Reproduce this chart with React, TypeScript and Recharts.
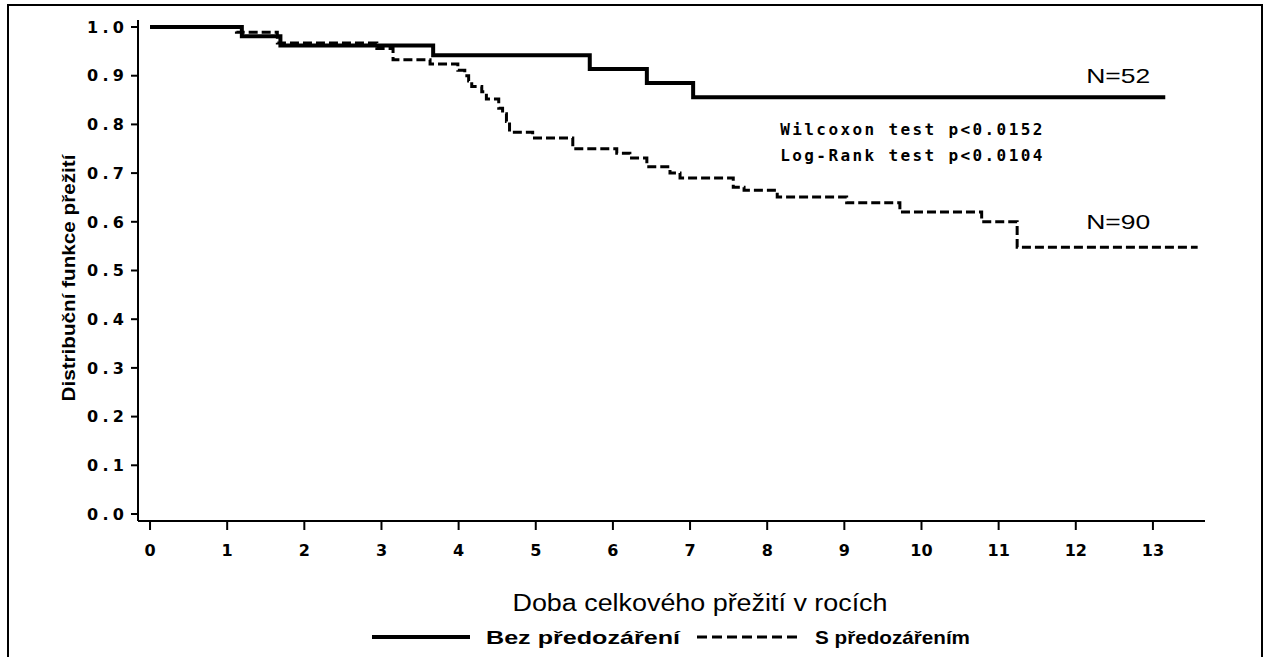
import React from 'react';
import { LineChart, Line, XAxis, YAxis, ReferenceDot, Legend } from 'recharts';

// ---- data ----
const xTicks = [0, 1, 2, 3, 4, 5, 6, 7, 8, 9, 10, 11, 12, 13];
const yTicks = [0, 0.1, 0.2, 0.3, 0.4, 0.5, 0.6, 0.7, 0.8, 0.9, 1.0];

const seriesNames = ['Bez předozáření', 'S předozářením'];

// Bez předozáření (N=52)
const solidTimes = [0, 1.19, 1.69, 3.67, 5.7, 6.44, 7.04, 13.16];
const solidSurvival = [1.0, 0.981, 0.962, 0.942, 0.914, 0.885, 0.856, 0.856];

// S předozářením (N=90)
const dashedTimes = [
  0, 1.12, 1.65, 2.94, 3.15, 3.63, 3.99, 4.08, 4.13, 4.17, 4.3, 4.36, 4.52, 4.57, 4.62, 4.66,
  4.96, 5.48, 6.05, 6.22, 6.44, 6.74, 6.87, 7.56, 7.7, 8.13, 9.03, 9.72, 10.78, 11.24, 13.58,
];
const dashedSurvival = [
  1.0, 0.989, 0.967, 0.956, 0.933, 0.924, 0.911, 0.9, 0.889, 0.878, 0.867, 0.852, 0.833, 0.822, 0.806, 0.784,
  0.772, 0.75, 0.741, 0.731, 0.713, 0.7, 0.69, 0.671, 0.665, 0.651, 0.639, 0.62, 0.6, 0.548, 0.548,
];

const annotationTexts = ['N=52', 'N=90', 'Wilcoxon test p<0.0152', 'Log-Rank test p<0.0104'];
const annotationX = [12.55, 12.55, 8.17, 8.17];
const annotationY = [0.901, 0.6, 0.789, 0.737];

const solidData = solidTimes.map((t, i) => ({ t, s: solidSurvival[i] }));
const dashedData = dashedTimes.map((t, i) => ({ t, s: dashedSurvival[i] }));

const NARROW = '"Liberation Sans Narrow", "Arial Narrow", "Liberation Sans", Arial, sans-serif';
const MONO = '"DejaVu Sans Mono", "Liberation Mono", monospace';

const XTick = (props: any) => {
  const { x, y, payload } = props;
  return (
    <text x={x} y={y + 26} textAnchor="middle" fontFamily='"DejaVu Sans", sans-serif' fontWeight="bold" fontSize={16} fill="#000">
      {payload.value}
    </text>
  );
};

const YTick = (props: any) => {
  const { x, y, payload } = props;
  return (
    <text x={x} y={y} dy="0.36em" textAnchor="end" fontFamily='"DejaVu Sans", sans-serif' fontWeight="bold" fontSize={16} fill="#000" textLength={37} lengthAdjust="spacing">
      {Number(payload.value).toFixed(1)}
    </text>
  );
};

const YTitle = () => (
  <text
    x={68}
    y={278}
    transform="rotate(-90, 68, 278)"
    textAnchor="middle"
    dominantBaseline="central"
    fontFamily={NARROW}
    fontWeight="bold"
    fontSize={19}
    fill="#000"
    textLength={247}
    lengthAdjust="spacingAndGlyphs"
  >
    Distribuční funkce přežití
  </text>
);

const XTitle = (props: any) => {
  const vb = props.viewBox || { x: 138, y: 521, width: 1067 };
  return (
    <text
      x={700}
      y={vb.y + 90}
      textAnchor="middle"
      fontFamily='"Liberation Sans", Arial, sans-serif'
      fontSize={23}
      fill="#000"
      textLength={375}
      lengthAdjust="spacingAndGlyphs"
    >
      Doba celkového přežití v rocích
    </text>
  );
};

const makeAnnotation = (i: number) => (props: any) => {
  const vb = props.viewBox || { x: 0, y: 0 };
  const isN = i < 2;
  if (isN) {
    return (
      <text x={vb.x} y={vb.y} textAnchor="middle" dominantBaseline="central" fontFamily='"Liberation Sans", Arial, sans-serif' fontSize={21} fill="#000" textLength={64} lengthAdjust="spacingAndGlyphs">
        {annotationTexts[i]}
      </text>
    );
  }
  return (
    <text x={vb.x} y={vb.y} textAnchor="start" dominantBaseline="central" fontFamily={MONO} fontWeight="bold" fontSize={16} fill="#000" textLength={262} lengthAdjust="spacing">
      {annotationTexts[i]}
    </text>
  );
};

const LegendContent = () => (
  <svg width={1264} height={30} style={{ display: 'block' }}>
    <line x1={372} x2={470} y1={15} y2={15} stroke="#000" strokeWidth={4} />
    <text x={486} y={15} dominantBaseline="central" fontFamily={NARROW} fontWeight="bold" fontSize={19} fill="#000" textLength={194} lengthAdjust="spacingAndGlyphs">
      {seriesNames[0]}
    </text>
    <line x1={697} x2={800} y1={15} y2={15} stroke="#000" strokeWidth={3} strokeDasharray="10 5" />
    <text x={815} y={15} dominantBaseline="central" fontFamily={NARROW} fontWeight="bold" fontSize={19} fill="#000" textLength={155} lengthAdjust="spacingAndGlyphs">
      {seriesNames[1]}
    </text>
  </svg>
);

export default function App() {
  return (
    <div style={{ position: 'absolute', left: 0, top: 0, width: 1264, height: 657, background: '#fff', overflow: 'hidden' }}>
      <div
        style={{
          position: 'absolute',
          left: 7,
          top: 4,
          width: 1252,
          height: 700,
          border: '2px solid #000',
          pointerEvents: 'none',
        }}
      />
      <LineChart width={1264} height={657} margin={{ top: 20, right: 59, bottom: 0, left: 0 }}>
        <XAxis
          type="number"
          dataKey="t"
          domain={[-0.156, 13.675]}
          allowDataOverflow
          ticks={xTicks}
          interval={0}
          height={136}
          tickSize={9}
          tickMargin={0}
          tick={<XTick />}
          axisLine={{ stroke: '#000', strokeWidth: 2 }}
          tickLine={{ stroke: '#000', strokeWidth: 2 }}
          label={{ content: XTitle }}
        />
        <YAxis
          type="number"
          dataKey="s"
          domain={[-0.0144, 1.0144]}
          allowDataOverflow
          ticks={yTicks}
          interval={0}
          width={138}
          tickSize={7}
          tickMargin={7}
          tick={<YTick />}
          axisLine={{ stroke: '#000', strokeWidth: 2 }}
          tickLine={{ stroke: '#000', strokeWidth: 2 }}
          label={{ content: YTitle }}
        />
        <Line
          data={solidData}
          dataKey="s"
          name={seriesNames[0]}
          type="stepAfter"
          stroke="#000"
          strokeWidth={4}
          dot={false}
          activeDot={false}
          isAnimationActive={false}
        />
        <Line
          data={dashedData}
          dataKey="s"
          name={seriesNames[1]}
          type="stepAfter"
          stroke="#000"
          strokeWidth={3}
          strokeDasharray="9 4"
          dot={false}
          activeDot={false}
          isAnimationActive={false}
        />
        {annotationTexts.map((txt, i) => (
          <ReferenceDot
            key={txt}
            x={annotationX[i]}
            y={annotationY[i]}
            r={0}
            fill="none"
            stroke="none"
            label={makeAnnotation(i)}
          />
        ))}
        <Legend
          layout="horizontal"
          verticalAlign="middle"
          align="center"
          wrapperStyle={{ position: 'absolute', top: 622, left: 0, width: 1264, height: 30 }}
          content={<LegendContent />}
        />
      </LineChart>
    </div>
  );
}
